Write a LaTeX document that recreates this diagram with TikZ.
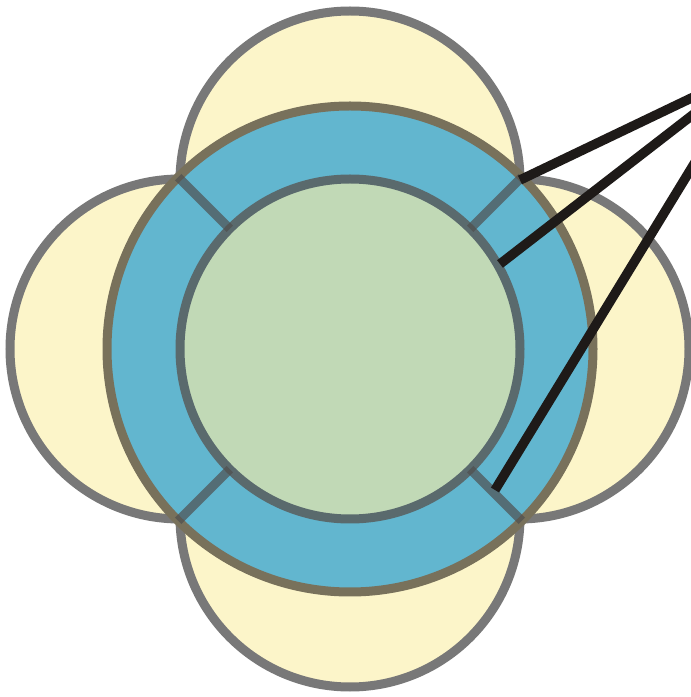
\documentclass[tikz,border=0pt]{standalone}
\definecolor{yel}{HTML}{FCF5C9}
\definecolor{blu}{HTML}{62B6CF}
\definecolor{grn}{HTML}{C1D9B6}
\definecolor{ygray}{HTML}{787878}
\definecolor{olivegray}{HTML}{78715B}
\definecolor{slate}{HTML}{5A6A6D}
\definecolor{segc}{HTML}{4F4F4F}
\definecolor{blk}{HTML}{1E1A18}
\begin{document}
\begin{tikzpicture}[x=1pt,y=1pt,
  petal/.style={fill=yel,draw=ygray,line width=9pt},
  ringc/.style={fill=blu,draw=olivegray,line width=9pt},
  corec/.style={fill=grn,draw=slate,line width=9pt},
  spoke/.style={draw=segc,opacity=0.7,line width=9pt},
  pointer/.style={draw=blk,line width=9.5pt}]
\useasboundingbox (0,0) rectangle (691,697);
\clip (0,0) rectangle (691,697);
\coordinate (C) at (350,348);
\coordinate (T) at (350,516);
\coordinate (B) at (350,180);
\coordinate (L) at (180,348);
\coordinate (R) at (519,348);
% petals
\foreach \p in {T,B,L,R} \path[petal] (\p) circle[radius=170];
% ring and core
\path[ringc] (C) circle[radius=243];
\path[corec] (C) circle[radius=170];
% spokes
\foreach \a in {45,135,225,315}
  \draw[spoke] ([shift={(\a:170)}]C) coordinate (in\a) -- ([shift={(\a:243)}]C) coordinate (out\a);
% pointer lines
\coordinate (F) at (752,628);
\coordinate (s1) at (520,517);
\coordinate (s2) at (500,433);
\coordinate (s3) at (495,207);
\draw[pointer] (s1) -- (F);
\draw[pointer] (s2) -- (F);
\draw[pointer] (s3) -- (F);
\end{tikzpicture}
\end{document}
